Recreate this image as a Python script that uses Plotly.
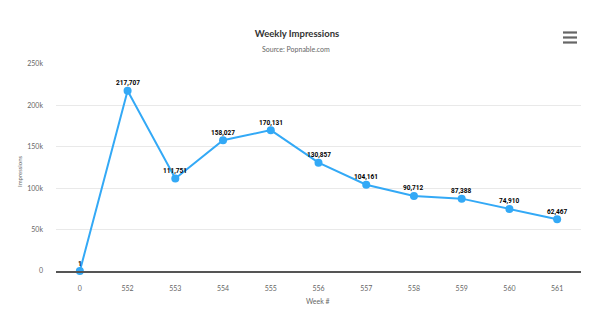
import plotly.graph_objects as go

weeks = ["0", "552", "553", "554", "555", "556", "557", "558", "559", "560", "561"]
impressions = [1, 217707, 111751, 158027, 170131, 130857, 104161, 90712, 87388, 74910, 62467]
y_ticks = [0, 50000, 100000, 150000, 200000, 250000]
y_tick_labels = ["0", "50k", "100k", "150k", "200k", "250k"]

W, H = 600, 322
L, R, T, B = 56, 19, 64, 51
pw, ph = W - L - R, H - T - B

def px(x):
    return (x - L) / pw

def py(y):
    return (H - B - y) / ph

FONT = "Lato, Open Sans, sans-serif"
LABEL_FONT = "Roboto, Liberation Sans, sans-serif"
blue = "#33a9f6"

fig = go.Figure()
fig.add_trace(go.Scatter(
    x=weeks, y=impressions,
    mode="lines+markers",
    line=dict(color=blue, width=2),
    marker=dict(color=blue, size=8),
    cliponaxis=False,
    hoverinfo="x+y",
    showlegend=False,
))

shapes = []
for yy in (32.5, 37.5, 42.5):
    shapes.append(dict(type="line", xref="paper", yref="paper",
                       x0=px(563), x1=px(577), y0=py(yy), y1=py(yy),
                       line=dict(color="#666666", width=2.2)))

# data labels: on a category axis annotation x is the category index
annotations = [
    dict(x=i, y=v, xref="x", yref="y", text=f"{v:,}", showarrow=False,
         yshift=7.5, xanchor="center", yanchor="middle",
         font=dict(family=LABEL_FONT, size=6.5, color="#000000", weight="bold"))
    for i, v in enumerate(impressions)
]
annotations += [
    dict(text="Source: Popnable.com", xref="paper", yref="paper",
         x=px(296), y=py(49), showarrow=False, xanchor="center", yanchor="middle",
         font=dict(family=FONT, size=7, color="#666666")),
    dict(text="Impressions", xref="paper", yref="paper",
         x=px(19), y=py(171), showarrow=False, textangle=-90,
         xanchor="center", yanchor="middle",
         font=dict(family=FONT, size=6, color="#666666")),
    dict(text="Week #", xref="paper", yref="paper",
         x=px(318), y=py(301), showarrow=False, xanchor="center", yanchor="middle",
         font=dict(family=FONT, size=7, color="#666666")),
]

fig.update_layout(
    width=W, height=H,
    margin=dict(l=L, r=R, t=T, b=B),
    paper_bgcolor="white", plot_bgcolor="white",
    font=dict(family=FONT, color="#666666", size=7),
    title=dict(text="<b>Weekly Impressions</b>", xref="container", x=297 / W, xanchor="center",
               yref="container", y=1 - 34 / H, yanchor="middle",
               font=dict(family=FONT, size=9.5, color="#333333")),
    xaxis=dict(type="category", range=[-0.5, len(weeks) - 0.5],
               showgrid=False, showline=True,
               linecolor="#555555", linewidth=1.5, ticks="",
               ticklabelstandoff=10,
               tickfont=dict(family=FONT, size=7, color="#666666"), zeroline=False),
    yaxis=dict(range=[0, 250000], tickvals=y_ticks, ticktext=y_tick_labels,
               showgrid=True, gridcolor="#e9e9e9", gridwidth=1,
               zeroline=False, showline=False, ticks="",
               ticklabelstandoff=12,
               tickfont=dict(family=FONT, size=7, color="#666666")),
    shapes=shapes,
    annotations=annotations,
)

fig.write_html("out.html", config={"displayModeBar": False})
